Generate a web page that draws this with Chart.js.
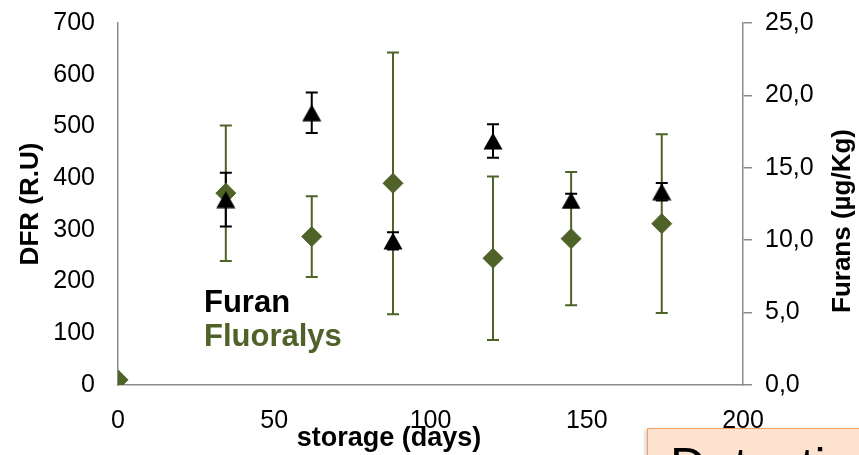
<!DOCTYPE html>
<html>
<head>
<meta charset="utf-8">
<script src="https://cdn.jsdelivr.net/npm/chart.js@4.4.1/dist/chart.umd.min.js"></script>
<style>
  body { margin: 0; background: #fff; overflow: hidden; }
  #wrap { position: relative; width: 859px; height: 455px; overflow: hidden; }
  #note {
    position: absolute; left: 647px; top: 428px; width: 260px; height: 80px;
    background: #fde3cf; border: 1.5px solid #f5a066;
    box-shadow: -2px 2px 3px rgba(0,0,0,0.18);
    font-family: "Liberation Sans", Arial, sans-serif; font-size: 50px; color: #000;
    padding: 12px 0 0 22px; box-sizing: border-box; line-height: 1;
  }
</style>
</head>
<body>
<div id="wrap">
  <canvas id="grafico" width="859" height="455"></canvas>
  <div id="note">Detection</div>
</div>
<script>
// storage time (days) and measurements
const furanDays = [34.5, 62, 88, 120, 145, 174];
const furanValues = [12.8, 18.8, 9.95, 16.85, 12.75, 13.35];   // µg/Kg
const furanErr = [1.85, 1.4, 0.6, 1.15, 0.45, 0.6];

const fluoDays = [0, 34.5, 62, 88, 120, 145, 174];
const fluoValues = [10, 371, 287, 390, 245, 283, 312];       // R.U
const fluoErr = [0, 131, 78, 253, 158, 129, 173];

const verde = '#4f6228';
const cinza = '#8c8c8c';
const fonte = '"Liberation Sans", Arial, sans-serif';

// triangle marker, centred on its bounding box
function triangulo() {
  let c = document.createElement('canvas');
  c.width = 20;
  c.height = 18;
  let g = c.getContext('2d');
  g.fillStyle = '#000';
  g.beginPath();
  g.moveTo(10, 0.5);
  g.lineTo(19.5, 17.5);
  g.lineTo(0.5, 17.5);
  g.closePath();
  g.fill();
  return c;
}

function pontos(xs, ys) {
  return xs.map((x, i) => ({ x: x, y: ys[i] }));
}

// vertical error bars with caps
const barrasErro = {
  id: 'barrasErro',
  beforeDatasetsDraw(chart) {
    const ctx = chart.ctx;
    const x = chart.scales.x;
    const series = [
      { xs: fluoDays, ys: fluoValues, err: fluoErr, eixo: chart.scales.y, cor: verde },
      { xs: furanDays, ys: furanValues, err: furanErr, eixo: chart.scales.y2, cor: '#000' }
    ];
    ctx.save();
    series.forEach(s => {
      ctx.strokeStyle = s.cor;
      ctx.lineWidth = 2;
      s.xs.forEach((d, i) => {
        if (!s.err[i]) return;
        let px = x.getPixelForValue(d);
        let top = s.eixo.getPixelForValue(s.ys[i] + s.err[i]);
        let bot = s.eixo.getPixelForValue(s.ys[i] - s.err[i]);
        ctx.beginPath();
        ctx.moveTo(px, top);
        ctx.lineTo(px, bot);
        ctx.moveTo(px - 6, top);
        ctx.lineTo(px + 6, top);
        ctx.moveTo(px - 6, bot);
        ctx.lineTo(px + 6, bot);
        ctx.stroke();
      });
    });
    ctx.restore();
  }
};

// axis titles and the coloured series names
const textos = {
  id: 'textos',
  afterDraw(chart) {
    const ctx = chart.ctx;
    ctx.save();
    ctx.fillStyle = '#000';
    ctx.textAlign = 'center';
    ctx.textBaseline = 'middle';

    ctx.font = 'bold 26px ' + fonte;
    ctx.save();
    ctx.translate(31, 204);
    ctx.rotate(-Math.PI / 2);
    ctx.fillText('DFR (R.U)', 0, 0);
    ctx.restore();

    ctx.save();
    ctx.translate(843, 221);
    ctx.rotate(-Math.PI / 2);
    ctx.fillText('Furans (µg/Kg)', 0, 0);
    ctx.restore();

    ctx.font = 'bold 27px ' + fonte;
    ctx.textBaseline = 'alphabetic';
    ctx.fillText('storage (days)', 389, 446);

    ctx.textAlign = 'left';
    ctx.font = 'bold 31px ' + fonte;
    ctx.fillText('Furan', 204, 312);
    ctx.fillStyle = verde;
    ctx.fillText('Fluoralys', 204, 346);
    ctx.restore();
  }
};

// fixed axis sizes, no extra room reserved for the tick labels
function larguraFixa(w) {
  return s => {
    s.width = w;
    s.paddingTop = 0;
    s.paddingBottom = 0;
  };
}

const data = {
  datasets: [
    {
      label: 'Furan',
      data: pontos(furanDays, furanValues),
      yAxisID: 'y2',
      pointStyle: triangulo(),
      backgroundColor: '#000',
      borderColor: '#000',
      order: 1
    },
    {
      label: 'Fluoralys',
      data: pontos(fluoDays, fluoValues),
      yAxisID: 'y',
      pointStyle: 'rectRot',
      pointRadius: 10,
      backgroundColor: verde,
      borderColor: verde,
      borderWidth: 1,
      order: 2
    }
  ]
};

const config = {
  type: 'scatter',
  data: data,
  options: {
    responsive: false,
    animation: false,
    layout: { padding: { top: 23, left: 0, right: 0, bottom: 0 } },
    plugins: { legend: { display: false }, tooltip: { enabled: false } },
    scales: {
      x: {
        type: 'linear',
        min: 0,
        max: 200,
        grid: { display: false, drawTicks: false },
        border: { display: true, color: cinza, width: 1.5 },
        ticks: { stepSize: 50, color: '#000', font: { family: fonte, size: 25 }, padding: 21, maxRotation: 0 },
        afterFit(s) { s.height = 70; s.paddingLeft = 0; s.paddingRight = 0; }
      },
      y: {
        position: 'left',
        min: 0,
        max: 700,
        grid: { display: false, drawTicks: false },
        border: { display: true, color: cinza, width: 1.5 },
        ticks: { stepSize: 100, color: '#000', font: { family: fonte, size: 25 }, padding: 23 },
        afterFit: larguraFixa(118)
      },
      y2: {
        position: 'right',
        min: 0,
        max: 25,
        grid: { display: true, drawOnChartArea: false, drawTicks: true, tickLength: 9, color: cinza, lineWidth: 1.5 },
        border: { display: true, color: cinza, width: 1.5 },
        ticks: {
          stepSize: 5,
          color: '#000',
          font: { family: fonte, size: 25 },
          padding: 13,
          callback: v => v.toFixed(1).replace('.', ',')
        },
        afterFit: larguraFixa(116)
      }
    }
  },
  plugins: [barrasErro, textos]
};

const myChart = new Chart(document.getElementById('grafico'), config);
</script>
</body>
</html>
